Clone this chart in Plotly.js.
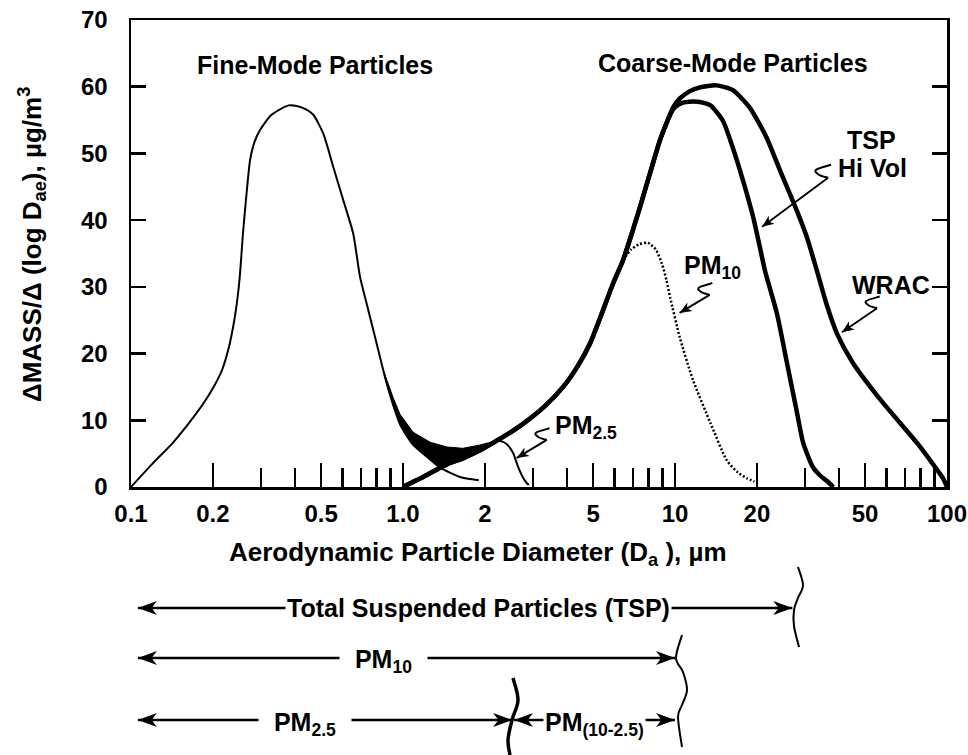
<!DOCTYPE html>
<html>
<head>
<meta charset="utf-8">
<script src="https://cdn.plot.ly/plotly-3.0.1.min.js"></script>
<style>html,body{margin:0;padding:0;background:#fff}#chart{width:968px;height:755px}</style>
</head>
<body>
<div id="chart"></div>
<script>
// ---- data (x in µm, y in µg/m³ per log unit) ----
const fineX = [0.1,0.12,0.143,0.17,0.19,0.205,0.216,0.231,0.243,0.251,0.258,0.266,0.274,0.285,0.298,0.325,0.353,0.38,0.407,0.44,0.468,0.509,0.554,0.603,0.656,0.695,0.735,0.8,0.871,0.92,0.975,1.09,1.26,1.37,1.62,1.9];
const fineY = [0,3.5,6.7,10.5,13.3,15.6,17.5,21.6,26.5,31.4,38,44,49,51.8,53.5,55.6,56.6,57.2,57.1,56.6,55.8,53,48,43,38,31.5,27.5,21.5,15.5,12.3,9.4,6.3,4.1,2.9,1.5,1.0];

const coarseX = [1.0,1.2,1.37,1.45,1.66,1.92,2.14,2.4,2.77,3.3,3.88,4.4,4.87,5.3,5.92,6.44,7.0,7.44,8.09,8.81,9.3];
const coarseY = [0,1.6,2.9,3.4,4.3,5.5,6.6,7.8,9.5,12.0,15.0,18.2,21.5,25.3,30.5,34,38.5,42,47,52,54.5];

const tspX = [9.84,10.5,11.65,12.36,13.5,15.0,16.3,17.8,19.4,20.5,21.4,23.7,25.8,28.1,29.6,32.1,34,36.2,38.2];
const tspY = [56.6,57.5,57.8,57.7,57.2,54.9,50.9,45.9,40.4,36,32.5,26,18.6,11.1,6.6,3.0,1.8,0.9,0];

const wracX = [9.84,10.4,11.3,12.36,14.2,16.3,18.8,21.7,24.3,28.0,30.5,33.2,36.0,39.4,45.1,58.2,77.6,96.7,100];
const wracY = [56.9,58.2,59.3,59.9,60.2,59.5,56.9,52.4,47.5,41.5,37.5,32.5,27.5,23,18.6,12.6,6.6,1.3,0];

const pm10X = [6.44,6.9,7.4,7.96,8.5,8.95,9.3,9.6,10.4,11.65,13.5,15.5,17,18.4,19.6];
const pm10Y = [34,35.6,36.4,36.6,35.6,33.5,31,28.4,22.5,16,9.6,4.0,2.2,1.3,0.8];

const pm25X = [2.1,2.21,2.32,2.41,2.54,2.65,2.77,2.85,2.9];
const pm25Y = [6.4,6.9,6.8,6.4,5.1,3.0,1.3,0.6,0.3];

// upper edge of the overlap (black) region between the two modes
const envX = [0.85,0.92,0.975,1.09,1.26,1.45,1.66,1.92,2.14,2.25];
const envY = [17.3,13.4,10.9,8.2,6.7,6.0,5.8,6.3,6.8,7.2];

const xTickVals = [0.1,0.2,0.5,1,2,5,10,20,50,100];
const xTickText = ['0.1','0.2','0.5','1.0','2','5','10','20','50','100'];
const xMinorVals = [0.3,0.4,0.6,0.7,0.8,0.9,3,4,6,7,8,9,30,40,60,70,80,90];
const yTickVals = [0,10,20,30,40,50,60,70];

// size-range bars below the axis (µm)
const rangeStart = 0.106;
const tspCut = 27, pm10Cut = 10, pm25Cut = 2.52, coarseStart = 2.56;

// ---- build ----
const FONT = 'Liberation Sans, Arial, Helvetica, sans-serif';
const L = 131, R = 947, T = 20, B = 487;
const W = R - L, H = B - T;
const XMIN = -1, XMAX = 2, YMAX = 70;
const lg = Math.log10;
function xPx(v) { return L + (lg(v) - XMIN) / (XMAX - XMIN) * W; }
function yPx(v) { return B - v / YMAX * H; }
function pp(X, Y) { return [(X - L) / W, (B - Y) / H]; }
function smoothPath(pts) {
  const p = pts.map(q => pp(q[0], q[1]));
  let d = 'M' + p[0][0] + ',' + p[0][1];
  for (let i = 0; i < p.length - 1; i++) {
    const p0 = p[Math.max(i - 1, 0)], p1 = p[i], p2 = p[i + 1], p3 = p[Math.min(i + 2, p.length - 1)];
    const c1 = [p1[0] + (p2[0] - p0[0]) / 6, p1[1] + (p2[1] - p0[1]) / 6];
    const c2 = [p2[0] - (p3[0] - p1[0]) / 6, p2[1] - (p3[1] - p1[1]) / 6];
    d += ' C' + c1[0] + ',' + c1[1] + ' ' + c2[0] + ',' + c2[1] + ' ' + p2[0] + ',' + p2[1];
  }
  return d;
}
function polyPath(pts) {
  return pts.map((q, i) => { const p = pp(q[0], q[1]); return (i ? 'L' : 'M') + p[0] + ',' + p[1]; }).join(' ') + ' Z';
}
function headShape(tip, from, len, hw) {
  const dx = tip[0] - from[0], dy = tip[1] - from[1], d = Math.hypot(dx, dy);
  const ux = dx / d, uy = dy / d, nx = -uy, ny = ux;
  const bx = tip[0] - ux * len, by = tip[1] - uy * len;
  const kx = tip[0] - ux * len * 0.72, ky = tip[1] - uy * len * 0.72;
  return {type: 'path', xref: 'paper', yref: 'paper', fillcolor: '#000', line: {width: 0},
          path: polyPath([tip, [bx + nx * hw, by + ny * hw], [kx, ky], [bx - nx * hw, by - ny * hw]])};
}
function lineShape(a, b, w) {
  return {type: 'path', xref: 'paper', yref: 'paper', line: {color: '#000', width: w},
          path: 'M' + pp(a[0], a[1]).join(',') + ' L' + pp(b[0], b[1]).join(',')};
}
function arrow(a, b, w, len, hw, both) {
  const out = [lineShape(a, b, w), headShape(b, a, len, hw)];
  if (both) out.push(headShape(a, b, len, hw));
  return out;
}
function squiggle(tx, ty, s) {
  return {type: 'path', xref: 'paper', yref: 'paper', line: {color: '#000', width: 2},
          path: smoothPath([[tx + 3 * s, ty - 13 * s], [tx - 12 * s, ty - 8 * s], [tx - 9 * s, ty - 3 * s], [tx, ty]])};
}
function pointer(hx, hy, dx, dy, s) {
  const head = [xPx(hx), yPx(hy)], tail = [head[0] + dx, head[1] + dy];
  return arrow(tail, head, 2, 12, 5).concat([squiggle(tail[0], tail[1], s)]);
}
function rangeBar(x0, x1, Y) {
  return arrow([xPx(x0), Y], [xPx(x1), Y], 2.5, 19, 7, true);
}

// overlap polygon: envelope forward, then coarse and fine back
const lowCoarse = coarseX.map((x, i) => [x, coarseY[i]]).filter(p => p[0] >= 1.37 && p[0] <= 2.14).reverse();
const lowFine = fineX.map((x, i) => [x, fineY[i]]).filter(p => p[0] > 0.85 && p[0] < 1.37).reverse();
const polyX = envX.concat(lowCoarse.map(p => p[0]), lowFine.map(p => p[0]));
const polyY = envY.concat(lowCoarse.map(p => p[1]), lowFine.map(p => p[1]));

const traces = [
  {x: polyX, y: polyY, mode: 'lines', fill: 'toself', fillcolor: '#000', line: {color: '#000', width: 1}},
  {x: fineX, y: fineY, mode: 'lines', line: {color: '#000', width: 2, shape: 'spline', smoothing: 0.6}},
  {x: coarseX.concat(tspX), y: coarseY.concat(tspY), mode: 'lines', line: {color: '#000', width: 4.5, shape: 'spline', smoothing: 0.6}},
  {x: coarseX.concat(wracX), y: coarseY.concat(wracY), mode: 'lines', line: {color: '#000', width: 4.5, shape: 'spline', smoothing: 0.6}},
  {x: pm10X, y: pm10Y, mode: 'lines', line: {color: '#000', width: 2.5, dash: '2px,2px', shape: 'spline', smoothing: 0.6}},
  {x: pm25X, y: pm25Y, mode: 'lines', line: {color: '#000', width: 2, shape: 'spline', smoothing: 0.6}}
];

const bold = {family: FONT, size: 25, color: '#000', weight: 'bold'};
function txt(x, y, text) {
  return {x: lg(x), y: y, xref: 'x', yref: 'y', text: text, showarrow: false, font: bold,
          xanchor: 'center', yanchor: 'middle'};
}
function rowText(x, Y, text) {
  return {x: lg(x), y: (B - Y) / H, xref: 'x', yref: 'paper', text: text, showarrow: false, font: bold,
          xanchor: 'center', yanchor: 'middle', bgcolor: '#fff', borderpad: 1};
}

const annotations = [
  txt(0.4747, 63.3, 'Fine-Mode Particles'),
  txt(16.34, 63.5, 'Coarse-Mode Particles'),
  txt(52.6, 52.0, 'TSP'),
  txt(53.0, 47.8, 'Hi Vol'),
  txt(62.2, 30.3, 'WRAC'),
  txt(13.7, 33.0, 'PM<sub>10</sub>'),
  txt(4.71, 9.0, 'PM<sub>2.5</sub>'),
  {x: (478 - L) / W, y: (B - 553) / H, xref: 'paper', yref: 'paper', showarrow: false,
   font: Object.assign({}, bold, {size: 26}), xanchor: 'center', yanchor: 'middle',
   text: 'Aerodynamic Particle Diameter (D<sub>a</sub> ), µm'},
  {x: (32 - L) / W, y: (B - 245) / H, xref: 'paper', yref: 'paper', showarrow: false,
   font: Object.assign({}, bold, {size: 26}), textangle: -90, xanchor: 'center', yanchor: 'middle',
   text: 'ΔMASS/Δ (log D<sub>ae</sub>), µg/m<sup>3</sup>'},
  rowText(1.887, 608, 'Total Suspended Particles (TSP)'),
  rowText(0.851, 661, '  PM<sub>10</sub>  '),
  rowText(0.436, 724, '  PM<sub>2.5</sub>  '),
  rowText(5.04, 724, 'PM<sub>(10-2.5)</sub>')
];

let shapes = [].concat(
  rangeBar(rangeStart, tspCut, 608),
  rangeBar(rangeStart, pm10Cut, 658),
  rangeBar(rangeStart, pm25Cut, 720),
  rangeBar(coarseStart, pm10Cut, 720),
  pointer(20.9, 39.0, 66, -49, 1),
  pointer(10.4, 26.1, 30, -18, 0.9),
  pointer(41.1, 23.2, 35, -24, 0.9),
  pointer(2.62, 4.35, 30, -18, 0.9),
  [
    {type: 'path', xref: 'paper', yref: 'paper', line: {color: '#000', width: 2},
     path: smoothPath([[798,567],[803,585],[798,598],[794,610],[794,626],[799,647]])},
    {type: 'path', xref: 'paper', yref: 'paper', line: {color: '#000', width: 2},
     path: smoothPath([[682,635],[676,658],[683,672],[687,690],[682,705],[678,717],[682,747]])},
    {type: 'path', xref: 'paper', yref: 'paper', line: {color: '#000', width: 3.5},
     path: smoothPath([[513,678],[518,700],[512,720],[508,740],[510,755]])}
  ]
);
// range bars go beneath their labels
shapes = shapes.map(s => Object.assign({layer: 'below'}, s));

const tickFont = {family: FONT, size: 24, color: '#000', weight: 'bold'};
const layout = {
  width: 968, height: 755,
  margin: {l: L, r: 968 - R, t: T, b: 755 - B, pad: 0},
  paper_bgcolor: '#fff', plot_bgcolor: 'rgba(0,0,0,0)',
  showlegend: false, hovermode: false,
  xaxis: {
    type: 'log', range: [XMIN, XMAX], showgrid: false, zeroline: false,
    showline: true, linecolor: '#000', linewidth: 2.5, mirror: true,
    tickmode: 'array', tickvals: xTickVals, ticktext: xTickText,
    ticks: 'inside', ticklen: 24, tickwidth: 2.5, tickcolor: '#000',
    tickfont: tickFont, ticklabelstandoff: 4,
    minor: {tickmode: 'array', tickvals: xMinorVals, ticks: 'inside', ticklen: 19, tickwidth: 2.5, tickcolor: '#000', showgrid: false}
  },
  yaxis: {
    range: [0, YMAX], showgrid: false, zeroline: false,
    showline: true, linecolor: '#000', linewidth: 2.5, mirror: 'ticks',
    tickmode: 'array', tickvals: yTickVals,
    ticks: 'inside', ticklen: 15, tickwidth: 2.5, tickcolor: '#000',
    tickfont: tickFont, ticklabelstandoff: 16
  },
  annotations: annotations,
  shapes: shapes
};

Plotly.newPlot('chart', traces, layout, {staticPlot: true, displayModeBar: false});
</script>
</body>
</html>
